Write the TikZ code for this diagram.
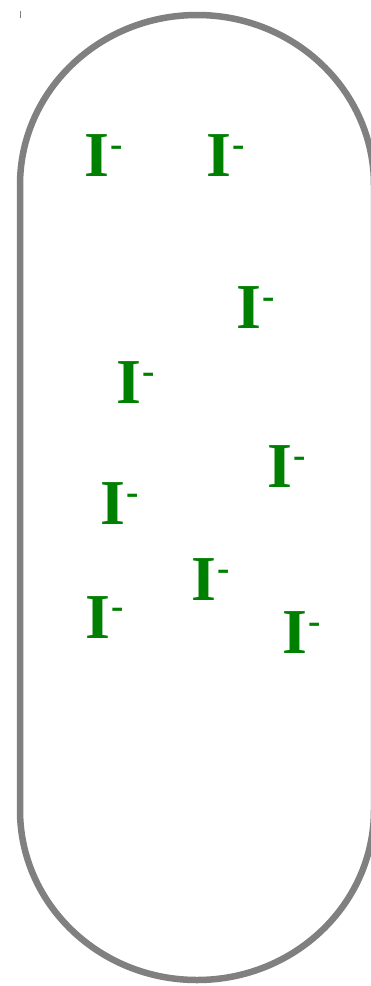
\documentclass[tikz,border=0pt]{standalone}
\usepackage{fontspec}
\setmainfont{Liberation Serif}
\definecolor{ionc}{RGB}{0,128,0}
\definecolor{wallc}{RGB}{128,128,128}
\tikzset{
  ion/.style={inner sep=0pt, anchor=base west, text=ionc,
    font=\bfseries\fontsize{64}{70}\selectfont},
  wall/.style={draw=wallc, line width=6.5pt, fill=white}
}
\newcommand{\iodide}{I\kern1.5pt\raisebox{20pt}{\fontsize{37}{40}\selectfont -}}
\begin{document}
\begin{tikzpicture}[x=1pt,y=-1pt]
\useasboundingbox (0,0) rectangle (371,986);
\fill[white] (0,0) rectangle (371,986);
\draw[wall] (20,185) arc[start angle=180,end angle=360,x radius=177,y radius=170]
  -- (374,810) arc[start angle=0,end angle=180,x radius=177,y radius=170] -- cycle;
\coordinate (t1) at (20,11);
\coordinate (t2) at (20,18);
\draw[wallc, line width=0.8pt] (t1) -- (t2);
\node[ion] (i1) at (84,176) {\iodide};
\node[ion] (i2) at (206,176) {\iodide};
\node[ion] (i3) at (236,328) {\iodide};
\node[ion] (i4) at (116,403) {\iodide};
\node[ion] (i5) at (267,487) {\iodide};
\node[ion] (i6) at (100,524) {\iodide};
\node[ion] (i7) at (191,600) {\iodide};
\node[ion] (i8) at (282,653) {\iodide};
\node[ion] (i9) at (85,638) {\iodide};
\end{tikzpicture}
\end{document}
